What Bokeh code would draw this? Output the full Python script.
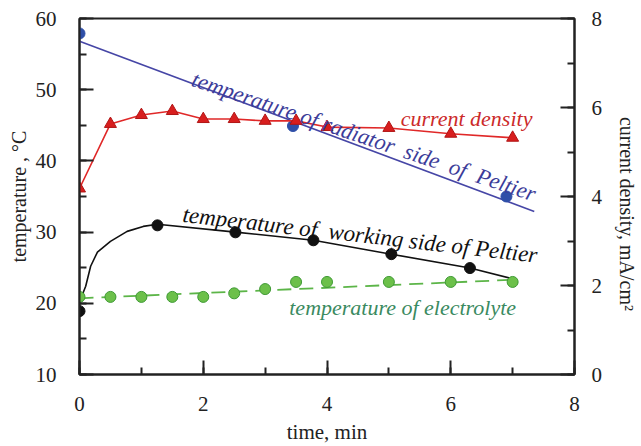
from bokeh.plotting import figure
from bokeh.models import Range1d, LinearAxis, SingleIntervalTicker
from bokeh.core.properties import value
from bokeh.embed import file_html
from bokeh.resources import INLINE

# ---- data ----
radiator_t = [0.0, 3.45, 6.9]
radiator_T = [57.9, 44.9, 35.0]
radiator_fit_t = [0.0, 7.35]
radiator_fit_T = [56.8, 32.9]

current_t = [0, 0.5, 1, 1.5, 2, 2.5, 3, 3.5, 4, 5, 6, 7]
current_j = [4.18, 5.63, 5.83, 5.92, 5.74, 5.74, 5.70, 5.70, 5.56, 5.54, 5.41, 5.32]

working_t = [0.0, 1.26, 2.52, 3.78, 5.04, 6.31]
working_T = [18.9, 30.95, 29.97, 28.85, 26.9, 24.95]
working_fit_t = [0.0, 0.1, 0.18, 0.29, 0.5, 0.77, 1.03, 1.26, 2.52, 3.78, 5.04, 6.31, 7.02]
working_fit_T = [20.2, 22.4, 25.2, 27.2, 28.7, 30.1, 30.8, 31.1, 30.0, 28.85, 26.9, 24.95, 23.4]

electrolyte_t = [0, 0.5, 1, 1.5, 2, 2.5, 3, 3.5, 4, 5, 6, 7]
electrolyte_T = [20.9, 20.9, 20.9, 20.9, 20.9, 21.4, 22.0, 23.0, 23.0, 23.0, 23.0, 23.0]
electrolyte_fit_t = [0.0, 7.0]
electrolyte_fit_T = [20.7, 23.3]

SERIF = "Liberation Serif"
NB = "\u00a0"

p = figure(width=641, height=446, output_backend="svg", toolbar_location=None,
           x_range=Range1d(0, 8), y_range=Range1d(10, 60),
           min_border_left=79, min_border_right=64, min_border_top=18, min_border_bottom=70)
p.extra_y_ranges = {"cd": Range1d(0, 8)}

p.grid.visible = False
p.outline_line_color = "#222222"
p.outline_line_width = 2
p.background_fill_color = "white"
p.border_fill_color = "white"

def style_axis(ax, interval):
    ax.ticker = SingleIntervalTicker(interval=interval, num_minor_ticks=2)
    ax.axis_line_color = "#222222"
    ax.axis_line_width = 2
    ax.major_tick_in = 14
    ax.major_tick_out = 0
    ax.minor_tick_in = 7
    ax.minor_tick_out = 0
    ax.major_tick_line_color = "#222222"
    ax.major_tick_line_width = 2
    ax.minor_tick_line_color = "#222222"
    ax.minor_tick_line_width = 2
    ax.major_label_text_font = SERIF
    ax.major_label_text_font_size = "21px"
    ax.major_label_text_color = "#222222"
    ax.axis_label_text_font = SERIF
    ax.axis_label_text_font_style = "normal"
    ax.axis_label_text_color = "#222222"

style_axis(p.xaxis[0], 2)
p.xaxis[0].major_label_standoff = 22
p.xaxis[0].axis_label = "time, min"
p.xaxis[0].axis_label_text_font_size = "21px"
p.xaxis[0].axis_label_standoff = 6

style_axis(p.yaxis[0], 10)
p.yaxis[0].major_label_standoff = 23
p.yaxis[0].axis_label = "temperature , °C"
p.yaxis[0].axis_label_text_font_size = "20px"
p.yaxis[0].axis_label_standoff = 3

right = LinearAxis(y_range_name="cd")
style_axis(right, 2)
right.major_label_standoff = 17
right.axis_label = NB * 7 + "current density, mA/cm²"
right.axis_label_text_font_size = "20px"
right.axis_label_standoff = 11
p.add_layout(right, "right")

# radiator side
p.line(radiator_fit_t, radiator_fit_T, line_color="#4646a6", line_width=1.6)
p.scatter(radiator_t, radiator_T, size=11, marker="circle", fill_color="#2f4fa8",
          line_color="#2f4fa8")

# current density
p.line(current_t, current_j, y_range_name="cd", line_color="#e02828", line_width=1.6)
p.scatter(current_t, current_j, y_range_name="cd", marker="triangle", size=12,
          fill_color="#d81e1e", line_color="#b01515")

# working side
p.line(working_fit_t, working_fit_T, line_color="#111111", line_width=1.6)
p.scatter(working_t, working_T, size=11, marker="circle", fill_color="#111111",
          line_color="#111111")

# electrolyte
p.line(electrolyte_fit_t, electrolyte_fit_T, line_color="#5cb548", line_width=1.8,
       line_dash="14 8")
p.scatter(electrolyte_t, electrolyte_T, size=11, marker="circle", fill_color="#6cc04a",
          line_color="#3f9a35")

# annotations
def note(x, y, txt, color, angle, size):
    p.text(x=[x], y=[y], text=[txt], angle=angle, text_color=color,
           text_font=value(SERIF), text_font_style="italic", text_font_size=size,
           text_align="left", text_baseline="alphabetic")

note(1.83, 51.6, "temperature of radiator" + NB + " side" + NB + " of" + NB + " Peltier",
     "#3c3c99", -0.327, "22.5px")
note(5.19, 46.0, "current density", "#cc2a2a", 0.0, "22px")
note(1.67, 32.5, "temperature of" + NB + " working side of Peltier", "#111111", -0.115, "23px")
note(3.39, 19.36, "temperature of electrolyte", "#3a8a60", 0.0, "22px")

open("out.html", "w").write(file_html(p, INLINE))
